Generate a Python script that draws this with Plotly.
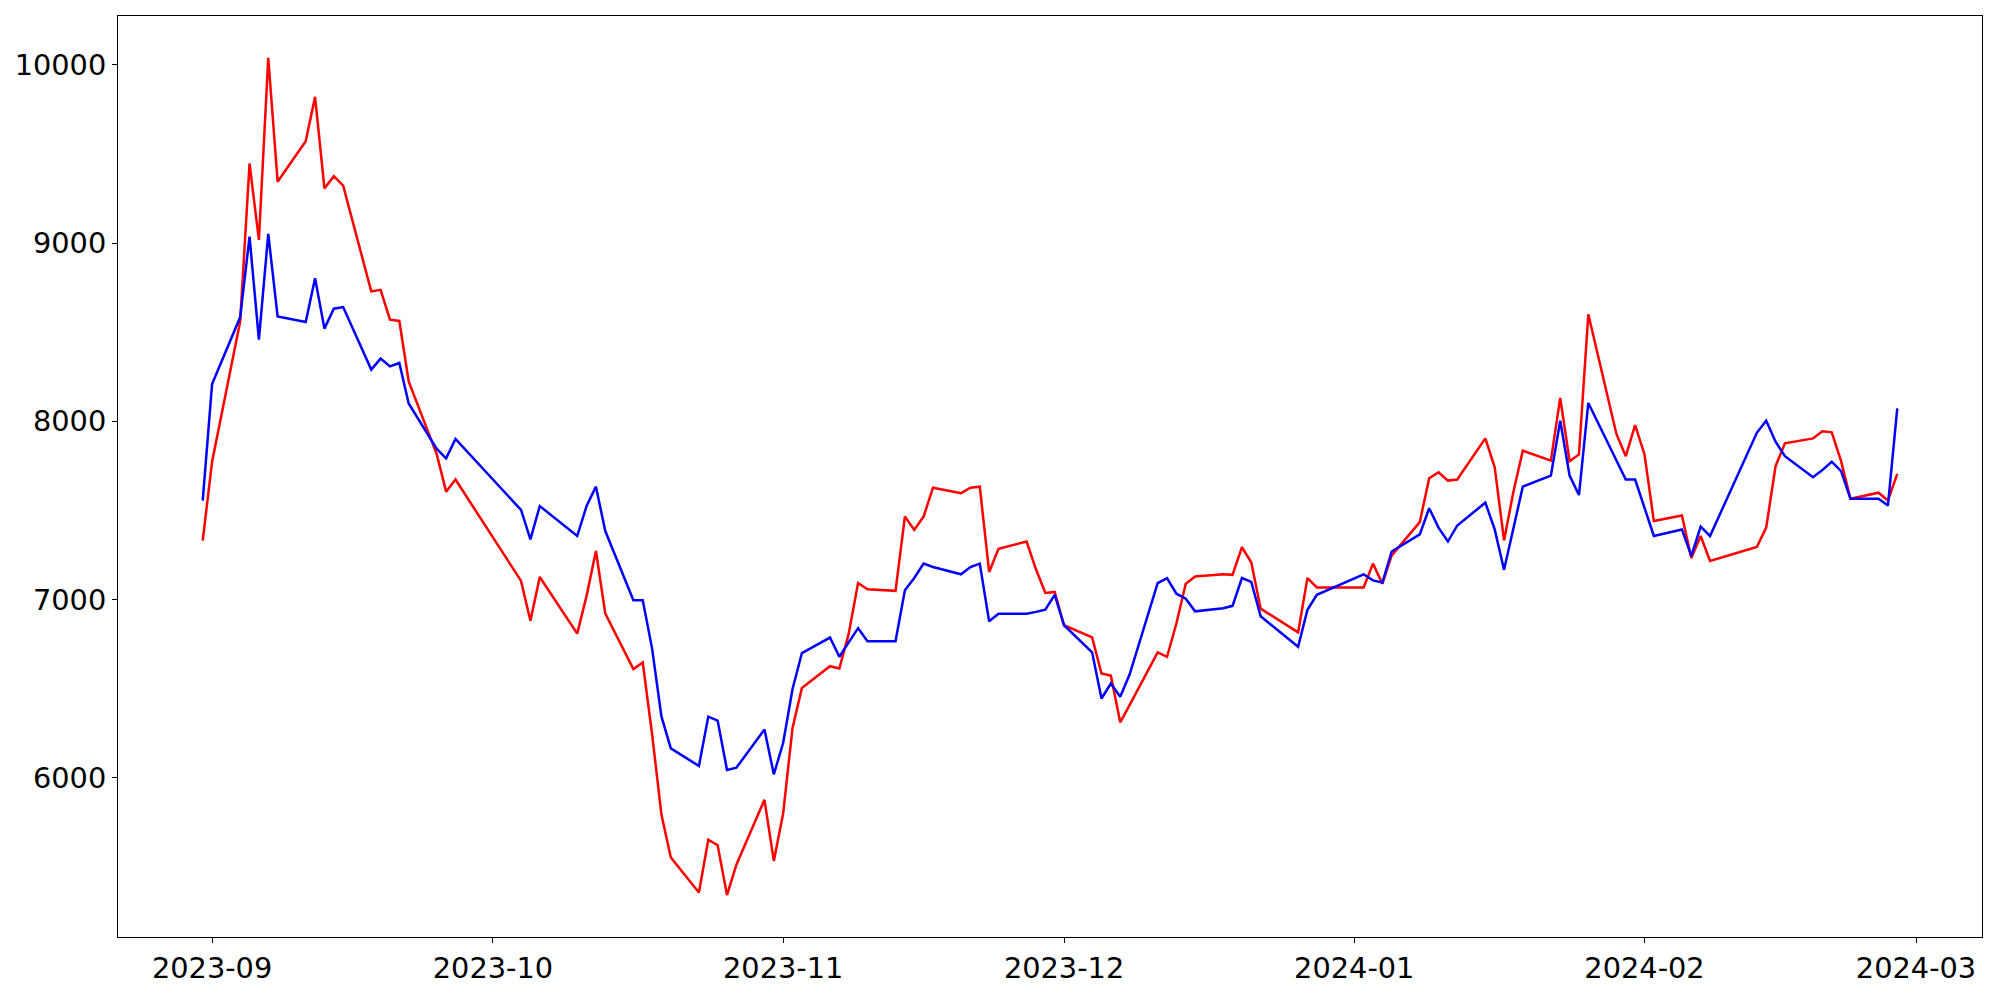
import pandas as pd
import plotly.graph_objects as go

# KRX trading days, Aug 31 2023 - Feb 28 2024
krx_holidays = ["2023-09-28", "2023-09-29", "2023-10-02", "2023-10-03", "2023-10-09",
                "2023-12-25", "2023-12-29", "2024-01-01", "2024-02-09", "2024-02-12"]
dates = pd.bdate_range("2023-08-31", "2024-02-28", freq="C", holidays=krx_holidays)

red_values = [
    # Aug 31 - Sep 27
    7330, 7773, 8560, 9447, 9018, 10040, 9345, 9572, 9821, 9307, 9376, 9323, 8729, 8738, 8570, 8563, 8224, 7814, 7605, 7673,
    # Oct
    7104, 6880, 7126, 6808, 7020, 7272, 6920, 6609, 6646, 6242, 5791, 5551, 5355, 5651, 5620, 5340, 5511, 5875, 5532,
    # Nov
    5800, 6279, 6503, 6625, 6612, 6808, 7092, 7057, 7048, 7465, 7390, 7465, 7627, 7596, 7627, 7633, 7154, 7284, 7325, 7169, 7036, 7042,
    # Dec
    6855, 6787, 6584, 6572, 6310, 6407, 6703, 6678, 6865, 7088, 7129, 7141, 7138, 7294, 7207, 6948, 6815, 7120, 7067,
    # Jan
    7067, 7201, 7088, 7247, 7434, 7680, 7714, 7667, 7673, 7904, 7742, 7331, 7605, 7835, 7779, 8131, 7776, 7814, 8601, 7929, 7804, 7978,
    # Feb
    7814, 7440, 7471, 7232, 7356, 7216, 7294, 7403, 7748, 7876, 7904, 7944, 7938, 7776, 7565, 7599, 7555, 7705,
]

blue_values = [
    7555, 8209, 8585, 9036, 8458, 9052, 8588, 8557, 8803, 8520, 8632, 8641, 8290, 8352, 8308, 8327, 8100, 7845, 7792, 7901,
    7502, 7337, 7524, 7356, 7524, 7633, 7384, 6995, 6995, 6724, 6342, 6164, 6065, 6342, 6320, 6043, 6055, 6270, 6018,
    6195, 6497, 6699, 6786, 6678, 6759, 6839, 6765, 6765, 7051, 7120, 7201, 7182, 7141, 7182, 7201, 6877, 6920, 6920, 6930, 6942, 7026,
    6855, 6703, 6444, 6528, 6454, 6578, 7092, 7120, 7032, 7004, 6933, 6951, 6964, 7120, 7098, 6905, 6734, 6942, 7026,
    7141, 7107, 7095, 7269, 7365, 7512, 7403, 7325, 7415, 7543, 7393, 7166, 7400, 7633, 7695, 8003, 7695, 7586, 8103, 7779, 7673, 7673,
    7520, 7356, 7393, 7244, 7409, 7356, 7935, 8003, 7885, 7804, 7686, 7726, 7773, 7720, 7565, 7565, 7527, 8072,
]

month_ticks = ["2023-09-01", "2023-10-01", "2023-11-01", "2023-12-01", "2024-01-01", "2024-02-01", "2024-03-01"]
y_ticks = [6000, 7000, 8000, 9000, 10000]

fig = go.Figure()
fig.add_trace(go.Scatter(x=dates, y=red_values, mode="lines", line=dict(color="red", width=2.5)))
fig.add_trace(go.Scatter(x=dates, y=blue_values, mode="lines", line=dict(color="blue", width=2.5)))

# matplotlib-style 5% margins
span = dates[-1] - dates[0]
x_range = [dates[0] - span * 0.05, dates[-1] + span * 0.05]
lo = min(min(red_values), min(blue_values))
hi = max(max(red_values), max(blue_values))
pad = (hi - lo) * 0.05

axis_style = dict(
    showgrid=False, zeroline=False,
    showline=True, mirror=True, linecolor="black", linewidth=1,
    ticks="outside", ticklen=5, tickwidth=1, tickcolor="black",
)

# page body has an 8px margin, so the figure is a bit smaller than the window
fig.update_layout(
    width=1984, height=984,
    margin=dict(l=105, r=10, t=7, b=46),
    paper_bgcolor="white", plot_bgcolor="white",
    showlegend=False,
    font=dict(family="DejaVu Sans", size=28.8, color="black"),
    xaxis=dict(range=x_range, tickvals=month_ticks, tickformat="%Y-%m", **axis_style),
    yaxis=dict(range=[lo - pad, hi + pad], tickvals=y_ticks, tickformat="d", **axis_style),
)

fig.write_html("out.html")
